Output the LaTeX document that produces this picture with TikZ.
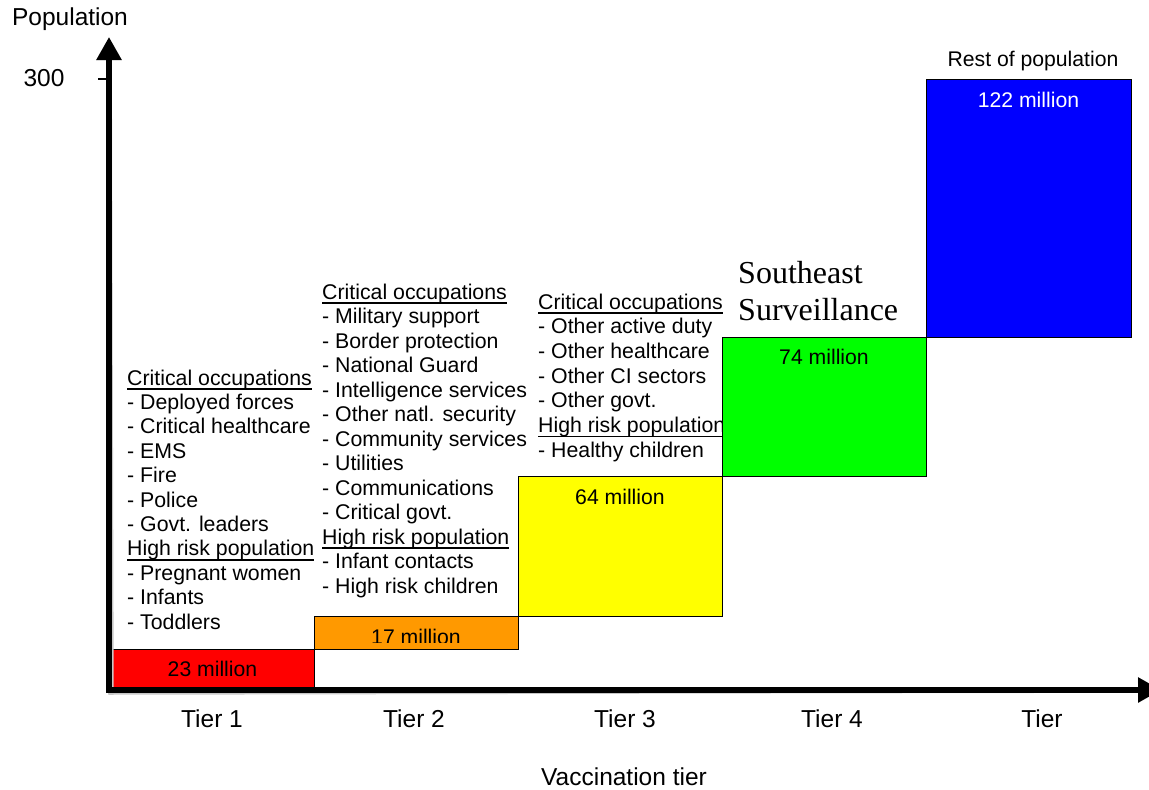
\documentclass[tikz,border=0pt]{standalone}
\usepackage{fontspec}
\setmainfont{Liberation Sans}
\newfontfamily\seriffont{Liberation Serif}
\usetikzlibrary{arrows.meta}
\definecolor{tred}{RGB}{255,0,0}
\definecolor{torange}{RGB}{255,153,0}
\definecolor{tyellow}{RGB}{255,255,0}
\definecolor{tgreen}{RGB}{0,255,0}
\definecolor{tblue}{RGB}{0,0,255}
\begin{document}
\begin{tikzpicture}[x=1pt,y=-1pt,
  lst/.style={anchor=base west, inner sep=0pt, font=\fontsize{21.3}{24}\selectfont},
  ul/.style={line width=1.4pt},
  bar/.style={draw=black, line width=1.3pt, inner sep=0pt, anchor=north west},
  val/.style={anchor=base, inner sep=0pt, font=\fontsize{21.2}{24}\selectfont},
  axl/.style={anchor=base, inner sep=0pt, font=\fontsize{24.5}{28}\selectfont},
  axisline/.style={line width=5.5pt, -{Triangle[length=23pt,width=24pt]}},
]
\useasboundingbox (0,0) rectangle (1149,790);
\clip (0,0) rectangle (1149,790);

% text columns
\foreach \t [count=\i from 0] in {Critical occupations,- Deployed forces,- Critical healthcare,- EMS,- Fire,- Police,- Govt. leaders,High risk population,- Pregnant women,- Infants,- Toddlers}
  \node[lst] (ca\i) at (127,385+24.4*\i) {\t};
\foreach \t [count=\i from 0] in {Critical occupations,- Military support,- Border protection,- National Guard,- Intelligence services,- Other natl. security,- Community services,- Utilities,- Communications,- Critical govt.,High risk population,- Infant contacts,- High risk children}
  \node[lst] (cb\i) at (322,299+24.5*\i) {\t};
\foreach \t [count=\i from 0] in {Critical occupations,- Other active duty,- Other healthcare,- Other CI sectors,- Other govt.,High risk population,- Healthy children}
  \node[lst] (cc\i) at (538,309+24.67*\i) {\t};
\foreach \n in {ca0,ca7,cb0,cb10,cc0,cc5}
  \draw[ul] ([yshift=-4pt]\n.base west) -- ([yshift=-4pt]\n.base east);

% bars
\node[bar, fill=tred, minimum width=203pt, minimum height=41pt] (b1) at (111,649) {};
\node[bar, fill=torange, minimum width=204pt, minimum height=33pt] (b2) at (314,616) {};
\node[bar, fill=tyellow, minimum width=204pt, minimum height=140pt] (b3) at (518,476) {};
\node[bar, fill=tgreen, minimum width=204pt, minimum height=139pt] (b4) at (722,337) {};
\node[bar, fill=tblue, minimum width=205pt, minimum height=258pt] (b5) at (926,79) {};

\node[val] (v1) at (212.5,676) {23 million};
\begin{scope}
  \clip (315,617) rectangle (517,642);
  \node[val] (v2) at (416,644) {17 million};
\end{scope}
\node[val] (v3) at (620,504) {64 million};
\node[val] (v4) at (824,364) {74 million};
\node[val, text=white] (v5) at (1028.5,107) {122 million};
\node[val] (rest) at (1033,66) {Rest of population};

\node[anchor=base west, inner sep=0pt, font=\seriffont\fontsize{32}{37}\selectfont] (se1) at (738,283) {Southeast};
\node[anchor=base west, inner sep=0pt, font=\seriffont\fontsize{32}{37}\selectfont] (se2) at (738,320) {Surveillance};

% tier labels
\node[axl] (t1) at (212,727) {Tier 1};
\node[axl] (t2) at (414,727) {Tier 2};
\node[axl] (t3) at (625,727) {Tier 3};
\node[axl] (t4) at (832,727) {Tier 4};
\node[axl] (t5) at (1042,727) {Tier};
\node[axl] (xl) at (624,785) {Vaccination tier};
\node[axl] (yl) at (70,25) {Population};
\node[axl] (y300) at (44,86) {300};

% axes
\coordinate (O) at (109,690);
\coordinate (ytip) at (109,37);
\coordinate (xtip) at (1161,690);
\coordinate (tick) at (98,79);
\draw[axisline, gray!45, shift={(2,2)}] (109,692.5) -- (ytip);
\draw[axisline, gray!45, shift={(2,2)}] (106.5,690) -- (xtip);
\draw[axisline] (109,692.5) -- (ytip);
\draw[axisline] (106.5,690) -- (xtip);
\draw[line width=1.5pt] (tick) -- (tick -| O);
\end{tikzpicture}
\end{document}
